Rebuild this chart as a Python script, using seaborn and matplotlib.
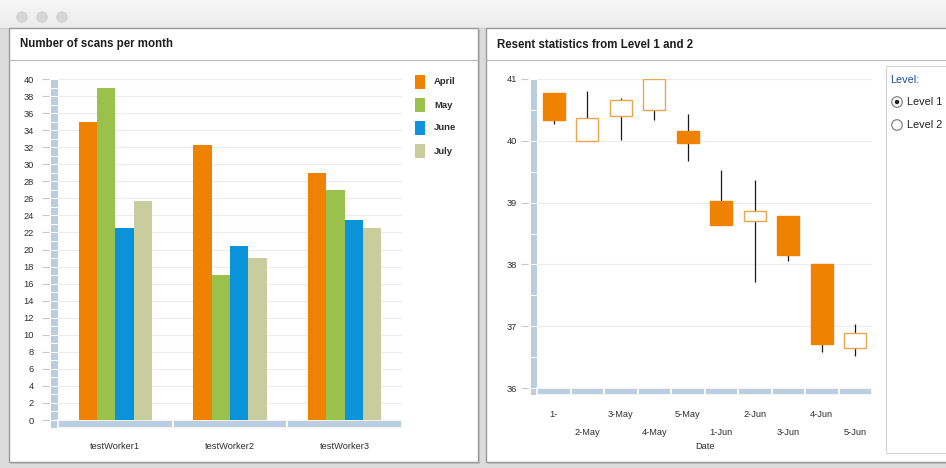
import numpy as np
import pandas as pd
import matplotlib
matplotlib.use("Agg")
import matplotlib.pyplot as plt
from matplotlib.patches import Rectangle, Circle
from matplotlib.transforms import blended_transform_factory
import seaborn as sns

# ---- scans per month, per worker ----
workers = ["testWorker1", "testWorker2", "testWorker3"]
months = ["April", "May", "June", "July"]
april = [35.0, 32.2, 29.0]
may = [39.0, 17.0, 27.0]
june = [22.5, 20.4, 23.5]
july = [25.7, 19.0, 22.5]
month_colors = ["#ef8200", "#99c14b", "#0b93d9", "#c8cd9e"]
scan_ticks = list(range(0, 41, 2))

# ---- level statistics (open / close / high / low) ----
dates = ["1-May", "2-May", "3-May", "4-May", "5-May",
         "1-Jun", "2-Jun", "3-Jun", "4-Jun", "5-Jun"]
date_labels = ["1-", "2-May", "3-May", "4-May", "5-May",
               "1-Jun", "2-Jun", "3-Jun", "4-Jun", "5-Jun"]
opens = [40.78, 40.00, 40.40, 40.50, 40.16, 39.02, 38.70, 38.79, 38.00, 36.64]
closes = [40.33, 40.37, 40.66, 41.00, 39.96, 38.63, 38.86, 38.15, 36.71, 36.89]
highs = [40.78, 40.80, 40.69, 41.00, 40.43, 39.52, 39.37, 38.79, 38.00, 37.03]
lows = [40.27, 40.00, 40.02, 40.33, 39.68, 38.63, 37.72, 38.05, 36.59, 36.51]
level_ticks = [36, 37, 38, 39, 40, 41]
level_options = ["Level 1", "Level 2"]

W, H = 946, 468
AXIS_BAR = "#bccddf"
GRID = "#ececec"
TEXT = "#2e2e2e"


def rect(x0, y0, x1, y1):
    """Figure-fraction rectangle from pixel edges (origin top-left)."""
    return [x0 / W, 1 - y1 / H, (x1 - x0) / W, (y1 - y0) / H]


sns.set_theme(style="white")
plt.rcParams["font.family"] = ["Liberation Sans", "DejaVu Sans"]

fig = plt.figure(figsize=(W / 100, H / 100), dpi=100, facecolor="#dcdcdc")

# ---- window chrome drawn in pixel space ----
bg = fig.add_axes([0, 0, 1, 1], zorder=-5)
bg.axis("off")


def gradient(ax, x0, x1, y0, y1, c_top, c_bot):
    t = np.linspace(0, 1, 64)[:, None, None]
    top = np.array(matplotlib.colors.to_rgb(c_top))[None, None, :]
    bot = np.array(matplotlib.colors.to_rgb(c_bot))[None, None, :]
    ax.imshow(top * (1 - t) + bot * t, extent=(x0, x1, y1, y0),
              aspect="auto", interpolation="bilinear", zorder=1)


gradient(bg, 0, W, 0, 28, "#f7f7f7", "#ebebeb")
bg.plot([0, W], [27.5, 27.5], color="#cfcfcf", lw=0.8, zorder=2)
for cx in (22, 42, 62):
    bg.add_patch(Circle((cx, 17), 5.2, facecolor="#d6d6d6", edgecolor="#cdcdcd", lw=0.6, zorder=3))

for (x0, x1, title) in ((9, 478, "Number of scans per month"),
                        (486, 952, "Resent statistics from Level 1 and 2")):
    bg.add_patch(Rectangle((x0 + 2, 30), x1 - x0, 434, facecolor="#c4c4c4", edgecolor="none", zorder=1))
    bg.add_patch(Rectangle((x0, 28), x1 - x0, 434, facecolor="white", edgecolor="#9a9a9a", lw=1.0, zorder=2))
    gradient(bg, x0 + 0.5, x1 - 0.5, 28.5, 60, "#ebebeb", "#d8d8d8")
    bg.plot([x0, x1], [60, 60], color="#b8b8b8", lw=0.8, zorder=3)
    bg.text(x0 + 11, 44.5, title, fontsize=8.3, fontweight="bold", color="#1e1e1e",
            va="center", ha="left", zorder=4)

# legend for months
for i, (m, c) in enumerate(zip(months, month_colors)):
    yc = 82 + 23 * i
    bg.add_patch(Rectangle((415, yc - 7), 10, 14, facecolor=c, edgecolor="none", zorder=4))
    bg.text(434, yc, m, fontsize=6.8, fontweight="bold", color=TEXT, va="center", ha="left", zorder=4)

# level selector box
bg.add_patch(Rectangle((886, 66), 70, 387, facecolor="white", edgecolor="#d2d2d2", lw=0.8, zorder=4))
bg.text(890, 80, "Level:", fontsize=7.8, color="#1f4f9f", va="center", ha="left", zorder=5)
for i, lab in enumerate(level_options):
    yc = 102 + 23 * i
    bg.add_patch(Circle((897, yc), 5.3, facecolor="#fafafa", edgecolor="#7a7a7a", lw=0.8, zorder=5))
    if i == 0:
        bg.add_patch(Circle((897, yc), 2.2, facecolor="#222222", edgecolor="none", zorder=6))
    bg.text(907, yc, lab, fontsize=7.8, color="#222222", va="center", ha="left", zorder=5)

bg.set_xlim(0, W)
bg.set_ylim(H, 0)

# ---- grouped bar chart ----
scans = pd.DataFrame({
    "worker": workers * 4,
    "month": [m for m in months for _ in workers],
    "scans": april + may + june + july,
})

ax1 = fig.add_axes(rect(58, 79, 402, 420))
ax1.set_facecolor("none")
sns.barplot(data=scans, x="worker", y="scans", hue="month", hue_order=months,
            order=workers, palette=month_colors, width=0.64, gap=0, linewidth=0,
            saturation=1, legend=False, ax=ax1, zorder=3)
ax1.set_ylim(0, 40)
ax1.set_xlim(-0.5, len(workers) - 0.5)
ax1.set_yticks(scan_ticks)
ax1.yaxis.grid(True, color=GRID, lw=0.8)
ax1.set_axisbelow(True)
ax1.set_xlabel("")
ax1.set_ylabel("")
for s in ax1.spines.values():
    s.set_visible(False)
ax1.spines["left"].set_position(("outward", 6.5))
ax1.tick_params(axis="y", left=True, length=5, width=0.8, color="#c8c8c8",
                labelsize=6.7, labelcolor=TEXT, pad=6)
ax1.tick_params(axis="x", bottom=False, length=0, labelsize=6.7, labelcolor=TEXT, pad=16)

# segmented axis rails
ty1 = blended_transform_factory(ax1.transAxes, ax1.transData)
bw1 = 8 / 344
for v in range(-1, 40):
    lo = max(v, -0.94)
    ax1.add_patch(Rectangle((-bw1, lo), bw1, v + 1 - lo, transform=ty1, facecolor=AXIS_BAR,
                            edgecolor="white", lw=0.7, clip_on=False, zorder=2))
tx1 = blended_transform_factory(ax1.transData, ax1.transAxes)
bh1 = 8 / 341
for i in range(len(workers)):
    ax1.add_patch(Rectangle((i - 0.5, -bh1), 1, bh1, transform=tx1, facecolor=AXIS_BAR,
                            edgecolor="white", lw=1.2, clip_on=False, zorder=2))

# ---- candlestick chart ----
ax2 = fig.add_axes(rect(537, 79, 872, 388))
ax2.set_facecolor("none")
xs = np.arange(len(dates))
o = np.array(opens)
c = np.array(closes)
rising = c >= o
ax2.vlines(xs, lows, highs, color="#1a1a1a", lw=0.9, zorder=2)
ax2.bar(xs, np.abs(c - o), bottom=np.minimum(o, c), width=0.65,
        color=np.where(rising, "white", "#ef8200"),
        edgecolor=np.where(rising, "#eaa64c", "#ef8200"), linewidth=1.0, zorder=3)
ax2.set_ylim(36, 41)
ax2.set_xlim(-0.5, len(dates) - 0.5)
ax2.set_yticks(level_ticks)
ax2.yaxis.grid(True, color=GRID, lw=0.8)
ax2.set_axisbelow(True)
for s in ax2.spines.values():
    s.set_visible(False)
ax2.spines["left"].set_position(("outward", 6.5))
ax2.tick_params(axis="y", left=True, length=5, width=0.8, color="#c8c8c8",
                labelsize=6.7, labelcolor=TEXT, pad=3)
ax2.set_xticks(xs[::2], [date_labels[i] for i in xs[::2]])
ax2.set_xticks(xs[1::2], [date_labels[i] for i in xs[1::2]], minor=True)
ax2.tick_params(axis="x", which="major", bottom=False, length=0, labelsize=6.7, labelcolor=TEXT, pad=16)
ax2.tick_params(axis="x", which="minor", bottom=False, length=0, labelsize=6.7, labelcolor=TEXT, pad=28.5)
ax2.set_xlabel("Date", fontsize=6.7, color=TEXT, labelpad=4)

ty2 = blended_transform_factory(ax2.transAxes, ax2.transData)
bw2 = 7 / 335
for k in range(-1, 10):
    lo = max(36 + 0.5 * k, 36 - 7 / 61.8)
    hi = 36 + 0.5 * (k + 1)
    ax2.add_patch(Rectangle((-bw2, lo), bw2, hi - lo, transform=ty2, facecolor=AXIS_BAR,
                            edgecolor="white", lw=0.7, clip_on=False, zorder=2))
tx2 = blended_transform_factory(ax2.transData, ax2.transAxes)
bh2 = 7 / 309
for i in xs:
    ax2.add_patch(Rectangle((i - 0.5, -bh2), 1, bh2, transform=tx2, facecolor=AXIS_BAR,
                            edgecolor="white", lw=1.2, clip_on=False, zorder=2))

fig.savefig("out.png", dpi=100, facecolor=fig.get_facecolor())
